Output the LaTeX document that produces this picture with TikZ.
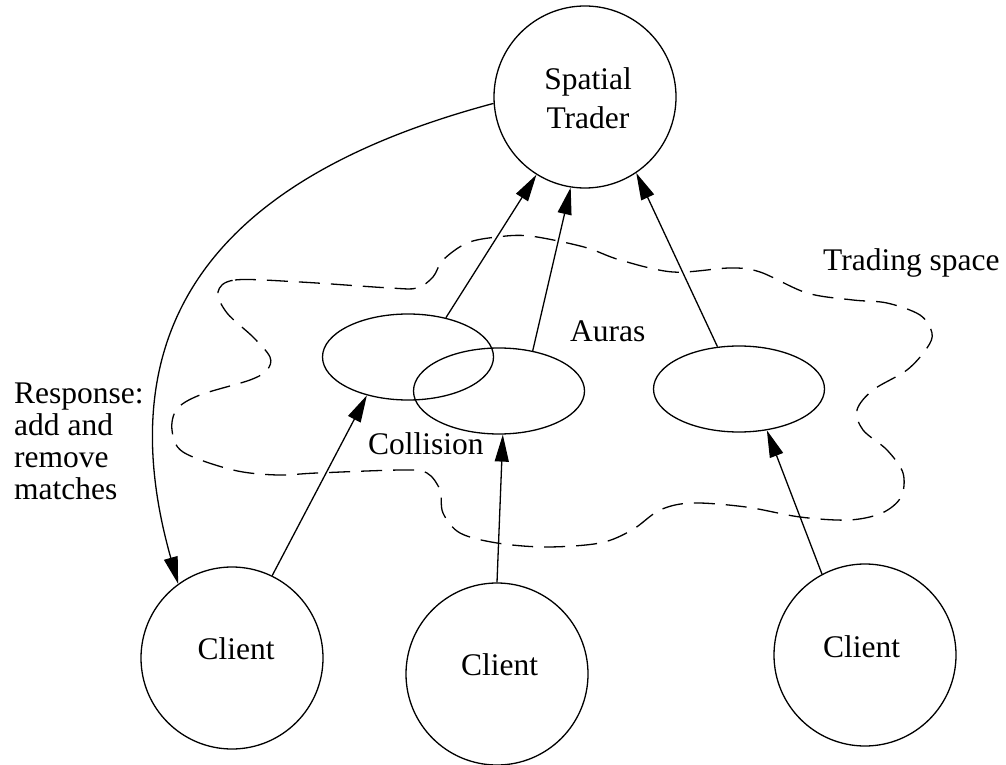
\documentclass[tikz,border=0pt]{standalone}
\usepackage{fontspec}
\setmainfont{Liberation Serif}
\usetikzlibrary{arrows.meta,shapes.geometric}
\begin{document}
\begin{tikzpicture}[x=1pt,y=1pt,
  every node/.style={inner sep=0pt},
  lbl/.style={font=\fontsize{31.5}{32}\selectfont},
  bigcirc/.style={draw,circle,line width=1.3pt,minimum size=182pt},
  aura/.style={draw,ellipse,line width=1.3pt,minimum width=171pt,minimum height=86pt},
  arr/.style={line width=1.3pt,-{Triangle[length=27pt,width=14pt]}},
  blob/.style={line width=1.3pt,dash pattern=on 21pt off 11pt}]
\useasboundingbox (0,0) rectangle (1006,764);
% dashed trading space
\draw[blob] plot[smooth cycle,tension=0.55] coordinates {
 (218,472) (235,484) (300,482) (390,476) (417,476) (433,487) (443,504) (467,521)
 (497,527) (530,528) (584,517) (620,504) (673,492) (730,496) (760,492) (807,471)
 (853,464) (887,461) (920,449) (932,431) (927,416) (907,394) (873,374) (857,354)
 (863,334) (887,314) (903,291) (901,267) (882,251) (849,244) (800,247) (746,257)
 (692,261) (660,254) (632,234) (600,221) (546,217) (497,221) (460,231) (443,251)
 (440,274) (427,291) (403,294) (317,291) (277,289) (233,294) (183,312) (172,334)
 (177,355) (200,369) (250,384) (267,394) (270,407) (253,427) (227,451)};
% main nodes
\node[bigcirc] (tr) at (585,667) {};
\node[bigcirc] (c1) at (232,106) {};
\node[bigcirc] (c2) at (497,90) {};
\node[bigcirc] (c3) at (865,109) {};
\node[aura] (e1) at (408,407) {};
\node[aura] (e2) at (499,373) {};
\node[aura] (e3) at (739,375) {};
% texts
\node[lbl,align=center,font=\fontsize{31.5}{39}\selectfont] (trt) at (588,666) {Spatial\\Trader};
\node[lbl,anchor=base] (c1t) at (236,105) {Client};
\node[lbl,anchor=base] (c2t) at (499.5,89) {Client};
\node[lbl,anchor=base] (c3t) at (861.5,107) {Client};
\node[lbl,anchor=base west] (ts) at (823,493) {Trading space};
\node[lbl,anchor=base west] (au) at (570,422) {Auras};
\node[lbl,anchor=base west] (co) at (368,310) {Collision};
\node[lbl,anchor=north west,align=left] (resp) at (14,381) {Response:\\add and\\remove\\matches};
% connectors
\draw[arr] (e1.46) -- (tr.-122);
\draw[arr] (e2.50) -- (tr.-99);
\draw[arr] (e3.117) -- (tr.-56);
\draw[arr] (c1.64) -- (e1.-137);
\draw[arr] (c2.90) -- (e2.-85);
\draw[arr] (c3.118) -- (e3.-56);
\draw[arr] (tr.184) .. controls (263,599) and (95,474) .. (c1.126);
\end{tikzpicture}
\end{document}
